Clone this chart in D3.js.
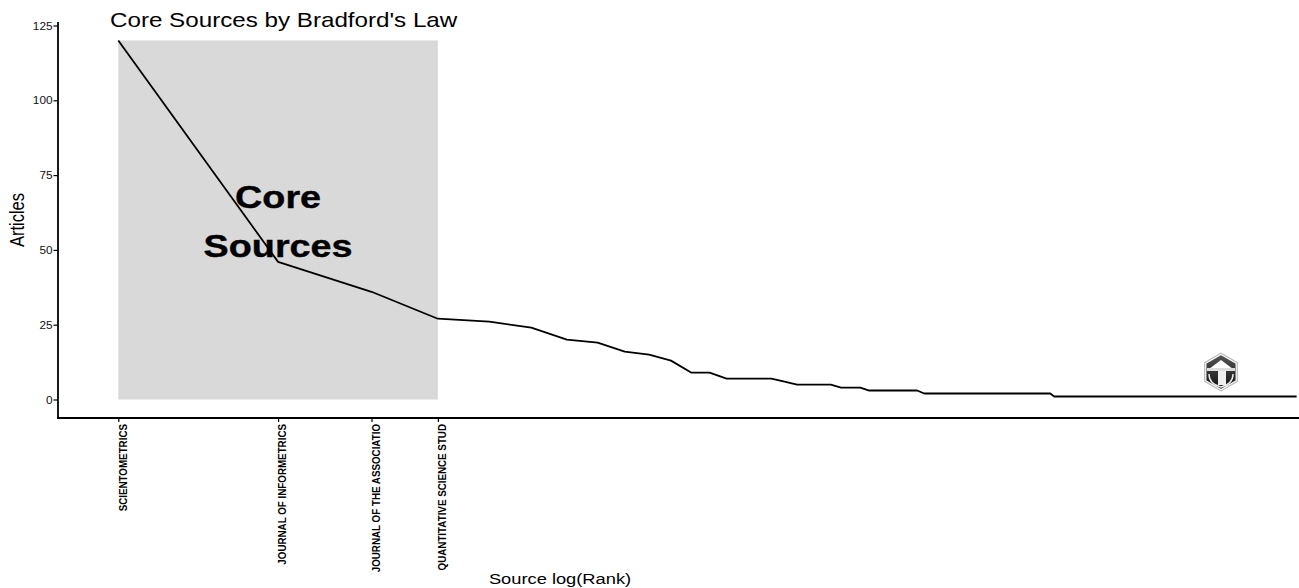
<!DOCTYPE html>
<html>
<head>
<meta charset="utf-8">
<script src="https://cdn.jsdelivr.net/npm/d3@7"></script>
<style>
  html, body { margin: 0; padding: 0; background: #fff; }
  svg { display: block; font-family: "Liberation Sans", Arial, sans-serif; }
</style>
</head>
<body>
<svg id="chart" width="1299" height="588"></svg>
<script>
// ---- data ----
const coreSources = ["SCIENTOMETRICS", "JOURNAL OF INFORMETRICS", "JOURNAL OF THE ASSOCIATIO", "QUANTITATIVE SCIENCE STUD"];
const articles = [
  120, 46, 36, 27, 26, 24, 20, 19, 16, 15, 13, 9, 9,
  7, 7, 7, 7,
  6,
  5, 5, 5, 5,
  4, 4, 4,
  3, 3, 3, 3, 3, 3, 3,
  2, 2, 2, 2, 2, 2, 2, 2, 2, 2, 2, 2, 2, 2, 2, 2, 2, 2, 2, 2, 2, 2, 2, 2, 2,
  1, 1, 1, 1, 1, 1, 1, 1, 1, 1,
  1, 1, 1, 1, 1, 1, 1, 1, 1, 1,
  1, 1, 1, 1, 1, 1, 1, 1, 1, 1,
  1, 1, 1, 1, 1, 1, 1, 1, 1, 1,
  1, 1, 1, 1, 1, 1, 1, 1, 1, 1,
  1, 1, 1, 1, 1, 1, 1, 1, 1, 1,
  1, 1, 1, 1, 1, 1, 1, 1, 1, 1,
  1, 1, 1, 1, 1, 1, 1, 1, 1, 1,
  1, 1, 1, 1, 1, 1, 1, 1, 1, 1,
  1, 1, 1, 1, 1, 1, 1, 1, 1, 1,
  1, 1, 1, 1, 1, 1, 1, 1, 1
];
const yTicks = [0, 25, 50, 75, 100, 125];
const titleText = "Core Sources by Bradford's Law";
const xTitle = "Source log(Rank)";
const yTitle = "Articles";
const coreLabel = ["Core", "Sources"];

// ---- layout ----
const SX = 1.18; // horizontal stretch of reference text
const svg = d3.select("#chart");
const data = articles.map((v, i) => ({ rank: i + 1, lr: Math.log(i + 1), v }));
const nCore = coreSources.length;
const maxV = d3.max(articles);

const x0 = 118.3, k = 230.5;
const x = d3.scaleLinear()
  .domain([0, Math.log(articles.length)])
  .range([x0, x0 + k * Math.log(articles.length)]);
const y = d3.scaleLinear().domain([0, 125]).range([399.5, 25.5]);

const panelLeft = 58, panelBottom = 418, panelTop = 22;

// core rectangle
svg.append("rect")
  .attr("x", x(0))
  .attr("y", y(maxV))
  .attr("width", x(Math.log(nCore)) - x(0))
  .attr("height", y(0) - y(maxV))
  .attr("fill", "#d9d9d9");

// core label
const cx = x(Math.log(nCore) / 2);
coreLabel.forEach((t, i) => {
  svg.append("text")
    .attr("transform", `translate(${cx},${208 + i * 48.5}) scale(${SX},1)`)
    .attr("text-anchor", "middle")
    .attr("font-size", 32)
    .attr("font-weight", "bold")
    .attr("fill", "#000")
    .attr("stroke", "#000")
    .attr("stroke-width", 0.4)
    .text(t);
});

// line
svg.append("path")
  .datum(data)
  .attr("d", d3.line().x(d => x(d.lr)).y(d => y(d.v)))
  .attr("fill", "none")
  .attr("stroke", "#000")
  .attr("stroke-width", 1.8)
  .attr("stroke-linejoin", "round");

// axis lines
svg.append("line")
  .attr("x1", panelLeft).attr("x2", panelLeft)
  .attr("y1", panelTop).attr("y2", panelBottom + 0.9)
  .attr("stroke", "#000").attr("stroke-width", 1.8);
svg.append("line")
  .attr("x1", panelLeft - 0.9).attr("x2", 1299)
  .attr("y1", panelBottom).attr("y2", panelBottom)
  .attr("stroke", "#000").attr("stroke-width", 1.8);

// y axis ticks
const yAxis = svg.append("g")
  .attr("transform", `translate(${panelLeft},0)`)
  .call(d3.axisLeft(y).tickValues(yTicks).tickSize(4.5).tickPadding(0));
yAxis.select(".domain").remove();
yAxis.selectAll(".tick line").attr("stroke", "#000").attr("stroke-width", 1.2);
yAxis.selectAll(".tick text")
  .attr("x", null).attr("dy", null)
  .attr("transform", `translate(-5.5,3.6) scale(${SX},1)`)
  .attr("font-size", 10)
  .attr("font-family", "Liberation Sans, Arial, sans-serif")
  .attr("fill", "#111");

// x axis ticks
const xAxis = svg.append("g")
  .attr("transform", `translate(0,${panelBottom})`)
  .call(d3.axisBottom(x)
    .tickValues(coreSources.map((s, i) => Math.log(i + 1)))
    .tickFormat((d, i) => coreSources[i])
    .tickSize(4).tickSizeOuter(0));
xAxis.select(".domain").remove();
xAxis.selectAll(".tick line").attr("stroke", "#000").attr("stroke-width", 1.2);
xAxis.selectAll(".tick text")
  .attr("x", null).attr("y", null).attr("dy", "0.36em")
  .attr("transform", `translate(3.6,6) scale(${SX},1) rotate(-90)`)
  .attr("text-anchor", "end")
  .attr("font-size", 9.8)
  .attr("font-weight", "bold")
  .attr("font-family", "Liberation Sans, Arial, sans-serif")
  .attr("fill", "#000");

// titles
svg.append("text")
  .attr("transform", `translate(110,27) scale(${SX},1)`)
  .attr("font-size", 20.5)
  .attr("fill", "#000")
  .text(titleText);

svg.append("text")
  .attr("transform", `translate(560,584) scale(${SX},1)`)
  .attr("text-anchor", "middle")
  .attr("font-size", 15.5)
  .attr("fill", "#000")
  .text(xTitle);

svg.append("text")
  .attr("transform", `translate(24,220) scale(${SX},1) rotate(-90)`)
  .attr("text-anchor", "middle")
  .attr("font-size", 16.5)
  .attr("fill", "#000")
  .text(yTitle);

// watermark logo (hexagon badge)
const logo = svg.append("g").attr("transform", "translate(1221,372)");
const hex = r => d3.range(6).map(i => {
  const a = Math.PI / 3 * i - Math.PI / 2;
  return [r * Math.cos(a), r * Math.sin(a)];
});
const grad = svg.append("defs").append("linearGradient")
  .attr("id", "lg").attr("x1", 0).attr("y1", 0).attr("x2", 0).attr("y2", 1);
grad.append("stop").attr("offset", "0").attr("stop-color", "#555");
grad.append("stop").attr("offset", "1").attr("stop-color", "#111");
logo.append("path")
  .attr("d", d3.line()(hex(19.5)) + "Z")
  .attr("fill", "#bbb");
logo.append("path")
  .attr("d", d3.line()(hex(17.5)) + "Z")
  .attr("fill", "url(#lg)")
  .attr("stroke", "#fff").attr("stroke-width", 1.2);
logo.append("path")
  .attr("d", "M-12,-3 L0,-12 L12,-3 Z")
  .attr("fill", "#fff");
logo.append("rect").attr("x", -14).attr("y", -4).attr("width", 28).attr("height", 3).attr("fill", "#ddd");
logo.append("rect").attr("x", -3).attr("y", -1).attr("width", 8).attr("height", 14).attr("fill", "#eee");
logo.append("path")
  .attr("d", "M-12,2 Q-12,12 0,15 Q12,12 12,2")
  .attr("fill", "none").attr("stroke", "#eee").attr("stroke-width", 1.4);
</script>
</body>
</html>
